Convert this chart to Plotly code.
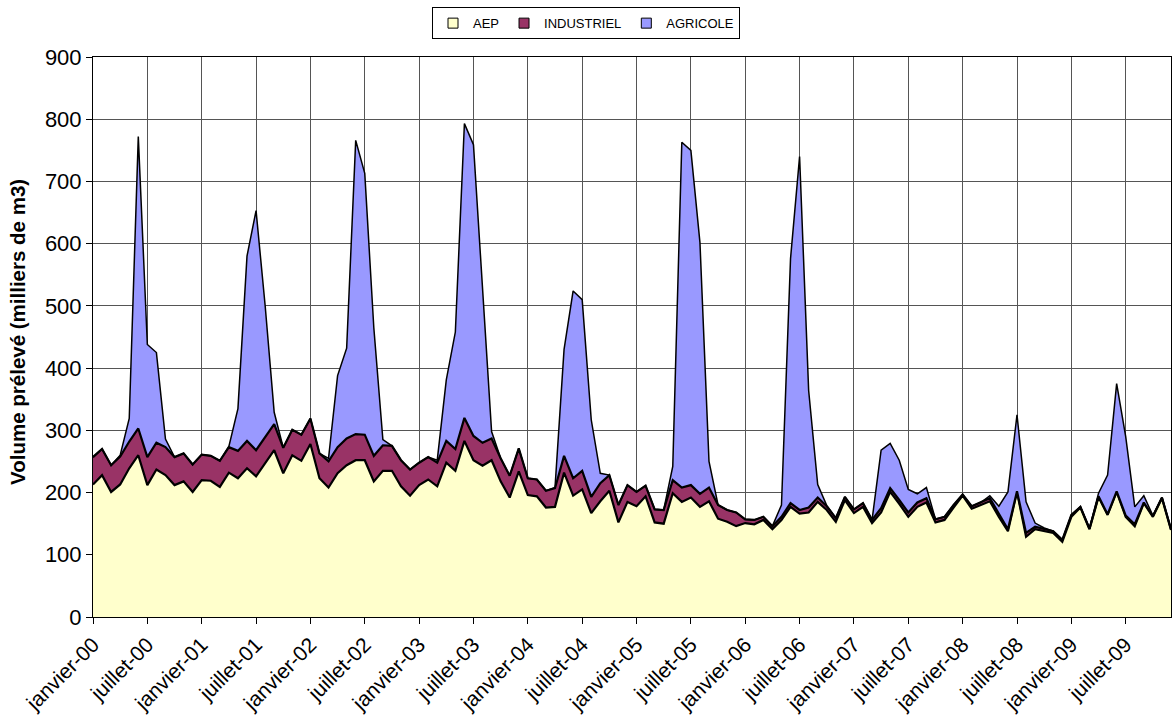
import plotly.graph_objects as go

# Monthly abstracted volumes (thousand m3), January 2000 to December 2009
months = list(range(120))

aep = [
    213, 228, 201, 213, 239, 260, 212, 237, 228, 212, 218, 201,
    220, 219, 209, 232, 223, 239, 226, 247, 268, 231, 260, 251,
    278, 223, 208, 231, 244, 252, 252, 218, 235, 235, 210, 195,
    212, 221, 210, 248, 235, 283, 252, 243, 252, 218, 192, 234,
    196, 194, 176, 177, 232, 195, 205, 167, 186, 203, 152, 185,
    178, 194, 152, 150, 199, 185, 192, 177, 186, 158, 153, 146,
    151, 149, 156, 141, 156, 177, 166, 168, 185, 172, 153, 188,
    167, 177, 151, 168, 201, 182, 161, 177, 184, 152, 156, 176,
    195, 174, 180, 186, 161, 138, 201, 129, 141, 138, 135, 121,
    161, 176, 141, 193, 164, 201, 161, 146, 183, 161, 191, 140,
]

industriel = [
    44, 42, 43, 45, 43, 43, 45, 43, 45, 45, 45, 44,
    41, 40, 42, 41, 44, 44, 42, 42, 42, 41, 41, 42,
    41, 40, 42, 42, 43, 42, 41, 41, 41, 40, 42, 42,
    36, 36, 38, 35, 35, 37, 39, 37, 35, 37, 35, 37,
    27, 27, 27, 30, 27, 28, 30, 26, 29, 25, 28, 27,
    23, 17, 21, 22, 21, 23, 20, 21, 22, 22, 19, 22,
    6, 7, 5, 5, 5, 6, 6, 8, 7, 6, 6, 5,
    6, 6, 5, 7, 6, 6, 7, 7, 7, 5, 5, 4,
    2, 4, 4, 5, 5, 3, 1, 6, 4, 3, 3, 3,
    3, 1, 1, 1, 1, 1, 2, 3, 1, 1, 1, 1,
]

agricole = [
    0, 0, 0, 2, 37, 469, 181, 145, 13, 0, 0, 0,
    0, 0, 0, 1, 68, 297, 385, 212, 19, 0, 0, 0,
    0, 0, 5, 115, 145, 472, 420, 206, 9, 0, 0, 0,
    0, 0, 4, 98, 188, 473, 468, 250, 11, 0, 0, 0,
    0, 0, 0, 1, 171, 301, 275, 124, 16, 0, 0, 0,
    0, 0, 0, 0, 22, 555, 538, 404, 42, 0, 0, 0,
    0, 0, 0, 0, 19, 393, 568, 188, 21, 1, 0, 0,
    0, 0, 0, 93, 72, 64, 37, 14, 17, 0, 0, 0,
    0, 0, 0, 4, 12, 60, 123, 50, 6, 2, 0, 0,
    0, 0, 0, 5, 63, 173, 127, 28, 11, 1, 0, 0,
]

tick_positions = list(range(0, 120, 6))
tick_labels = [f"{m}-{y:02d}" for y in range(10) for m in ("janvier", "juillet")]

series = [
    ("AEP", aep, "#FFFFCC", 2.2),
    ("INDUSTRIEL", industriel, "#993366", 2.2),
    ("AGRICOLE", agricole, "#9999FF", 1.5),
]

FONT = "Liberation Sans, Arial, sans-serif"

fig = go.Figure()

# Stacked areas (legend handled by square-marker proxies below)
for name, values, color, lw in series:
    fig.add_trace(go.Scatter(
        x=months, y=values, name=name, stackgroup="vol", mode="lines",
        line=dict(color="black", width=lw), fillcolor=color,
        showlegend=False,
    ))

# Legend entries with square swatches
for name, values, color, lw in series:
    fig.add_trace(go.Scatter(
        x=[None], y=[None], name=name, mode="markers",
        marker=dict(symbol="square", size=10, color=color,
                    line=dict(color="black", width=1)),
    ))

fig.update_layout(
    width=1172, height=719,
    margin=dict(l=93, r=1, t=57, b=102),
    paper_bgcolor="white", plot_bgcolor="white",
    font=dict(family=FONT, color="black"),
    showlegend=True,
    legend=dict(
        orientation="h", x=0.5, xref="container", xanchor="center",
        y=0.99, yref="container", yanchor="top",
        bordercolor="black", borderwidth=1, bgcolor="white",
        font=dict(size=13, family=FONT), itemwidth=30,
        traceorder="normal",
    ),
    xaxis=dict(
        range=[0, 119], tickmode="array", tickvals=tick_positions,
        ticktext=tick_labels, tickangle=-45,
        tickfont=dict(size=21, family=FONT),
        ticks="outside", ticklen=6, tickcolor="black",
        showgrid=True, gridcolor="#555555", gridwidth=1,
        showline=True, linecolor="black", linewidth=1, mirror=True,
        zeroline=False,
    ),
    yaxis=dict(
        range=[0, 900], dtick=100,
        tickfont=dict(size=22, family=FONT),
        ticks="outside", ticklen=6, tickcolor="black",
        showgrid=True, gridcolor="#555555", gridwidth=1,
        showline=True, linecolor="black", linewidth=1, mirror=True,
        zeroline=False,
    ),
    annotations=[dict(
        text="<b>Volume prélevé (milliers de m3)</b>",
        xref="paper", yref="paper", x=-0.0696, y=0.509,
        xanchor="center", yanchor="middle", textangle=-90,
        showarrow=False, font=dict(size=20.5, family=FONT),
    )],
)

fig.write_html("out.html")
